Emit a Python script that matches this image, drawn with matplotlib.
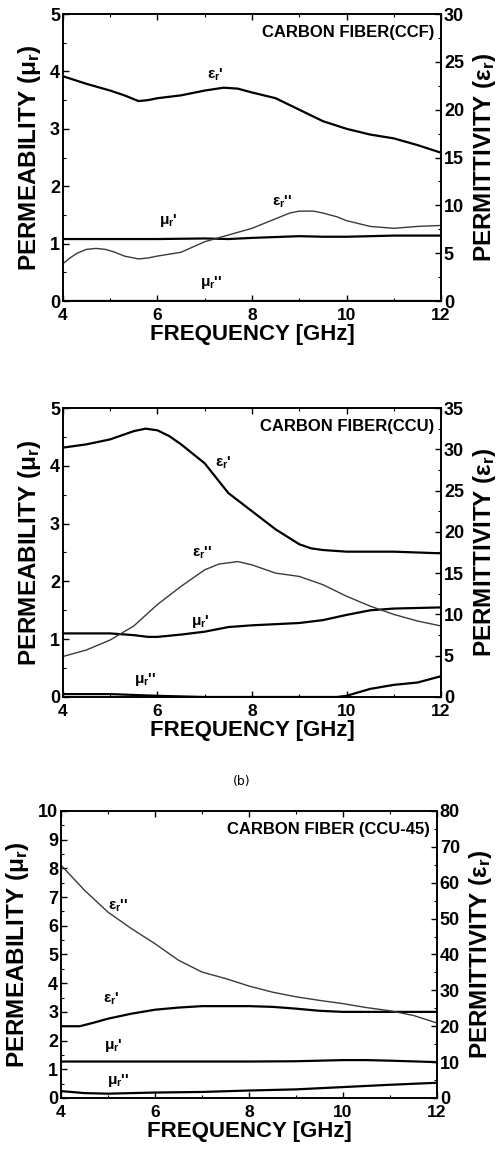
import matplotlib
matplotlib.use("Agg")
import matplotlib.pyplot as plt
from matplotlib.ticker import MultipleLocator

plt.rcParams['font.family'] = 'Liberation Sans'
plt.rcParams['font.weight'] = 'bold'
plt.rcParams['axes.labelweight'] = 'bold'
plt.rcParams['mathtext.fontset'] = 'custom'
plt.rcParams['mathtext.rm'] = 'Liberation Sans:bold'
plt.rcParams['mathtext.it'] = 'Liberation Sans:bold'
plt.rcParams['mathtext.bf'] = 'Liberation Sans:bold'

# ---- panel 1: CCF ----
f1_eps1 = [4.0, 4.5, 5.0, 5.3, 5.6, 5.8, 6.0, 6.5, 7.0, 7.4, 7.7, 8.0, 8.5, 9.0, 9.5, 10.0, 10.5, 11.0, 11.5, 12.0]
eps1_ccf = [23.5, 22.7, 22.0, 21.5, 20.9, 21.0, 21.2, 21.5, 22.0, 22.3, 22.2, 21.8, 21.2, 20.0, 18.8, 18.0, 17.4, 17.0, 16.3, 15.5]
f1_eps2 = [4.0, 4.15, 4.3, 4.5, 4.7, 4.9, 5.1, 5.3, 5.6, 5.8, 6.0, 6.5, 7.0, 7.5, 8.0, 8.5, 8.8, 9.0, 9.3, 9.5, 9.8, 10.0, 10.5, 11.0, 11.5, 12.0]
eps2_ccf = [3.9, 4.5, 5.0, 5.4, 5.5, 5.4, 5.1, 4.7, 4.4, 4.5, 4.7, 5.1, 6.2, 6.9, 7.6, 8.6, 9.2, 9.4, 9.4, 9.2, 8.8, 8.4, 7.8, 7.6, 7.8, 7.9]
f1_mu = [4.0, 5.0, 6.0, 7.0, 7.5, 8.0, 9.0, 9.5, 10.0, 11.0, 12.0]
mu1_ccf = [1.08, 1.08, 1.08, 1.09, 1.08, 1.10, 1.13, 1.12, 1.12, 1.14, 1.14]
mu2_ccf = [0.0, 0.0, 0.0, 0.0, 0.0, 0.0, 0.0, 0.0, 0.0, 0.0, 0.0]

# ---- panel 2: CCU ----
f2_eps1 = [4.0, 4.5, 5.0, 5.25, 5.5, 5.75, 6.0, 6.25, 6.5, 7.0, 7.25, 7.5, 8.0, 8.5, 9.0, 9.25, 9.5, 10.0, 11.0, 12.0]
eps1_ccu = [30.2, 30.6, 31.2, 31.7, 32.2, 32.5, 32.3, 31.6, 30.6, 28.3, 26.5, 24.7, 22.5, 20.3, 18.5, 18.0, 17.8, 17.6, 17.6, 17.4]
f2_eps2 = [4.0, 4.5, 5.0, 5.5, 6.0, 6.5, 7.0, 7.3, 7.7, 8.0, 8.5, 9.0, 9.5, 10.0, 10.5, 11.0, 11.5, 12.0]
eps2_ccu = [4.9, 5.7, 6.9, 8.6, 11.2, 13.4, 15.4, 16.1, 16.4, 16.0, 15.0, 14.6, 13.6, 12.2, 11.0, 10.0, 9.2, 8.6]
f2_mu1 = [4.0, 5.0, 5.5, 5.8, 6.0, 6.5, 7.0, 7.5, 8.0, 9.0, 9.5, 10.0, 10.5, 11.0, 12.0]
mu1_ccu = [1.10, 1.10, 1.07, 1.04, 1.04, 1.08, 1.13, 1.21, 1.24, 1.28, 1.33, 1.42, 1.50, 1.53, 1.55]
f2_mu2 = [4.0, 5.0, 6.0, 7.0, 8.0, 9.0, 9.8, 10.0, 10.5, 11.0, 11.5, 12.0]
mu2_ccu = [0.05, 0.05, 0.02, 0.0, 0.0, 0.0, 0.0, 0.02, 0.14, 0.21, 0.25, 0.36]

# ---- panel 3: CCU-45 ----
f3_eps2 = [4.0, 4.5, 5.0, 5.5, 6.0, 6.5, 7.0, 7.5, 8.0, 8.5, 9.0, 9.5, 10.0, 10.5, 11.0, 11.5, 12.0]
eps2_ccu45 = [64.9, 57.9, 51.8, 47.2, 43.0, 38.4, 35.1, 33.3, 31.2, 29.5, 28.2, 27.2, 26.3, 25.2, 24.3, 23.0, 20.9]
f3_eps1 = [4.0, 4.4, 4.7, 5.0, 5.5, 6.0, 6.5, 7.0, 8.0, 8.5, 9.0, 9.5, 10.0, 11.0, 12.0]
eps1_ccu45 = [20.0, 20.0, 21.0, 22.1, 23.5, 24.6, 25.2, 25.6, 25.6, 25.4, 24.9, 24.3, 24.0, 24.0, 24.0]
f3_mu1 = [4.0, 6.0, 8.0, 9.0, 10.0, 10.5, 11.0, 12.0]
mu1_ccu45 = [1.27, 1.27, 1.27, 1.28, 1.32, 1.32, 1.30, 1.25]
f3_mu2 = [4.0, 4.5, 5.0, 6.0, 7.0, 8.0, 9.0, 10.0, 11.0, 12.0]
mu2_ccu45 = [0.24, 0.17, 0.15, 0.19, 0.21, 0.26, 0.30, 0.38, 0.46, 0.53]

titles = ["CARBON FIBER(CCF)", "CARBON FIBER(CCU)", "CARBON FIBER (CCU-45)"]

EPS1 = r"$\epsilon_r$'"
EPS2 = r"$\epsilon_r$''"
MU1 = r"$\mu_r$'"
MU2 = r"$\mu_r$''"

fig = plt.figure(figsize=(4.99, 11.49), dpi=100)

panels = [
    dict(rect=[0.126, 0.738, 0.758, 0.2498], ymax=5, ymax2=30, ystep=1, ystep2=5,
         eps1=(f1_eps1, eps1_ccf), eps2=(f1_eps2, eps2_ccf),
         mu1=(f1_mu, mu1_ccf), mu2=(f1_mu, mu2_ccf),
         labels=[(EPS1, 7.22, 3.94), (EPS2, 8.63, 1.73), (MU1, 6.23, 1.41), (MU2, 7.14, 0.33)]),
    dict(rect=[0.126, 0.3934, 0.758, 0.2515], ymax=5, ymax2=35, ystep=1, ystep2=5,
         eps1=(f2_eps1, eps1_ccu), eps2=(f2_eps2, eps2_ccu),
         mu1=(f2_mu1, mu1_ccu), mu2=(f2_mu2, mu2_ccu),
         labels=[(EPS1, 7.40, 4.05), (EPS2, 6.94, 2.49), (MU1, 6.91, 1.31), (MU2, 5.74, 0.30)]),
    dict(rect=[0.1222, 0.0444, 0.7535, 0.2498], ymax=10, ymax2=80, ystep=1, ystep2=10,
         eps1=(f3_eps1, eps1_ccu45), eps2=(f3_eps2, eps2_ccu45),
         mu1=(f3_mu1, mu1_ccu45), mu2=(f3_mu2, mu2_ccu45),
         labels=[(EPS2, 5.22, 6.71), (EPS1, 5.08, 3.46), (MU1, 5.11, 1.84), (MU2, 5.22, 0.62)]),
]

for p, title in zip(panels, titles):
    ax = fig.add_axes(p["rect"])
    ax2 = ax.twinx()

    ax.plot(*p["mu1"], color="black", lw=1.6)
    ax.plot(*p["mu2"], color="black", lw=1.6)
    ax2.plot(*p["eps1"], color="black", lw=1.6)
    ax2.plot(*p["eps2"], color="#3a3a3a", lw=1.0)

    ax.set_xlim(4, 12)
    ax.set_ylim(0, p["ymax"])
    ax2.set_ylim(0, p["ymax2"])
    ax.xaxis.set_major_locator(MultipleLocator(2))
    ax.xaxis.set_minor_locator(MultipleLocator(1))
    ax.yaxis.set_major_locator(MultipleLocator(p["ystep"]))
    ax.yaxis.set_minor_locator(MultipleLocator(p["ystep"] / 2))
    ax2.yaxis.set_major_locator(MultipleLocator(p["ystep2"]))
    ax2.yaxis.set_minor_locator(MultipleLocator(p["ystep2"] / 2))

    ax.tick_params(which="both", direction="in", top=True, labelsize=13, pad=2)
    ax.tick_params(axis="x", pad=5, labelsize=12.5)
    ax.tick_params(which="major", length=4, width=1)
    ax.tick_params(which="minor", length=2, width=0.8)
    ax2.tick_params(which="both", direction="in", labelsize=13, pad=2)
    ax2.tick_params(which="major", length=4, width=1)
    ax2.tick_params(which="minor", length=2, width=0.8)
    for a in (ax, ax2):
        for s in a.spines.values():
            s.set_linewidth(1.2)

    ax.set_xlabel("FREQUENCY [GHz]", fontsize=16, fontweight="bold", labelpad=0.5)
    ax.set_ylabel(r"PERMEABILITY ($\mu_r$)", fontsize=17.5, fontweight="bold", labelpad=5)
    ax2.set_ylabel(r"PERMITTIVITY ($\epsilon_r$)", fontsize=17.5, fontweight="bold", labelpad=5)

    ax.text(0.982, 0.935, title, transform=ax.transAxes, ha="right", va="center",
            fontsize=12)
    for txt, x, y in p["labels"]:
        ax.text(x, y, txt, ha="center", va="center", fontsize=11)

fig.text(0.485, 1 - 782 / 1149, "(b)", fontsize=9, fontweight="normal",
         family="DejaVu Sans", ha="center", va="center")

fig.savefig("out.png", dpi=100)
